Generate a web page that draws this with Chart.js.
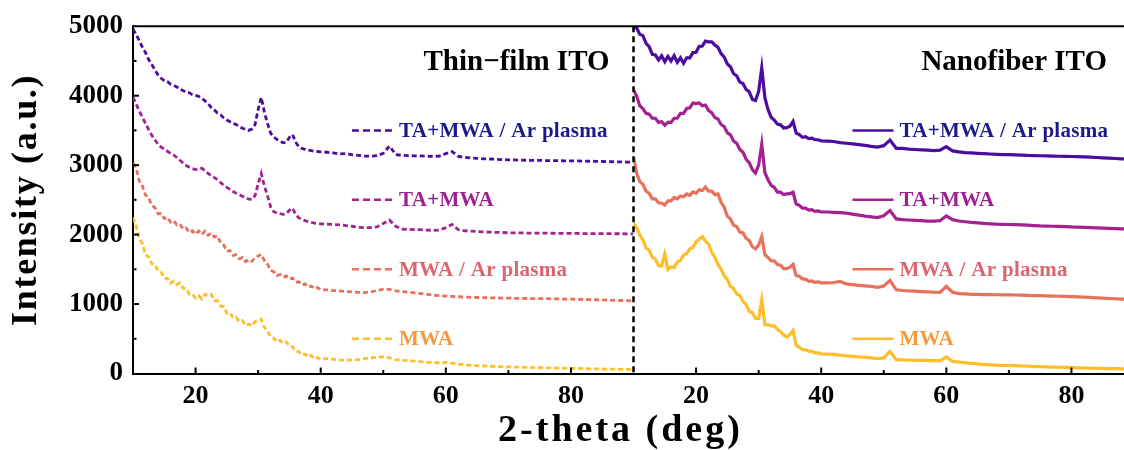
<!DOCTYPE html>
<html>
<head>
<meta charset="utf-8">
<script src="https://cdn.jsdelivr.net/npm/chart.js@4.4.1/dist/chart.umd.min.js"></script>
<style>
  html, body { margin: 0; padding: 0; background: #ffffff; }
  canvas { display: block; }
</style>
</head>
<body>
<canvas id="xrd" width="1124" height="450"></canvas>
<script>
// 2-theta sampling of each panel (deg)
const thetaThinFilm = [
  10,10.5,11,11.5,12,12.5,13,13.5,14,14.5,15,15.5,16,16.5,17,17.5,18,18.5,19,19.5,
  20,20.5,21,21.5,22,22.5,23,23.5,24,24.5,25,25.5,26,26.5,27,27.5,28,28.5,29,29.5,
  30,30.5,31,31.5,32,32.5,33,33.5,34,34.5,35,35.5,36,36.5,37,37.5,38,38.5,39,39.5,40,
  41,42,43,44,45,46,47,48,49,50,51,52,53,54,55,56,57,58,59,60,
  61,62,63,64,65,66,67,68,69,70,71,72,73,74,75,76,77,78,79,80,
  81,82,83,84,85,86,87,88,89,90
];
const thetaNanofiber = [
  10,10.5,11,11.5,12,12.5,13,13.5,14,14.5,15,15.5,16,16.5,17,17.5,18,18.5,19,19.5,
  20,20.5,21,21.5,22,22.5,23,23.5,24,24.5,25,25.5,26,26.5,27,27.5,28,28.5,29,29.5,
  30,30.5,31,31.5,32,32.5,33,33.5,34,34.5,35,35.5,36,36.5,37,37.5,38,38.5,39,39.5,40,
  41,42,43,44,45,46,47,48,49,50,51,52,53,54,55,56,57,58,59,60,
  61,62,63,64,65,66,67,68,69,70,71,72,73,74,75,76,77,78,79,80,
  81,82,83,84,85,86,87,88,89
];

// Thin-film ITO intensities (a.u., offset traces)
const thinFilmArPlasma = [
  4960,4880,4790,4700,4620,4520,4450,4370,4300,4250,
  4215,4205,4165,4150,4125,4090,4075,4045,4040,4015,
  4005,3990,3965,3925,3885,3830,3795,3750,3725,3680,
  3650,3625,3600,3585,3555,3530,3515,3500,3520,3580,
  3800,3975,3760,3600,3460,3405,3370,3345,3320,3330,
  3400,3440,3330,3265,3240,3228,3215,3208,3200,3196,3190,
  3185,3175,3160,3165,3150,3140,3130,3128,3135,3170,
  3275,3150,3140,3136,3134,3132,3128,3126,3130,3165,
  3195,3125,3112,3102,3096,3090,3088,3085,3080,3076,
  3075,3072,3070,3068,3068,3066,3064,3064,3062,3062,
  3060,3058,3056,3055,3052,3050,3048,3046,3044,3042
];
const thinFilmTaMwa = [
  3980,3880,3780,3690,3600,3510,3430,3365,3300,3260,
  3230,3200,3170,3145,3110,3070,3030,2995,2970,2950,
  2935,2945,2955,2920,2880,2850,2820,2790,2750,2710,
  2680,2650,2620,2595,2575,2550,2530,2510,2505,2560,
  2730,2880,2700,2560,2400,2330,2310,2300,2290,2300,
  2350,2380,2290,2240,2220,2200,2185,2175,2165,2160,2155,
  2150,2145,2140,2130,2120,2105,2100,2100,2110,2160,
  2210,2120,2080,2075,2070,2070,2065,2060,2065,2100,
  2145,2070,2055,2050,2045,2040,2035,2032,2030,2026,
  2025,2024,2022,2022,2020,2020,2019,2018,2017,2016,
  2016,2015,2015,2014,2013,2013,2012,2012,2011,2010
];
const thinFilmMwaAr = [
  3030,2960,2770,2700,2570,2530,2420,2390,2300,2300,
  2230,2250,2180,2200,2140,2150,2080,2095,2030,2055,
  2005,2050,2000,2050,1990,2020,1965,1980,1880,1850,
  1760,1770,1700,1710,1650,1670,1610,1640,1615,1665,
  1690,1715,1625,1575,1485,1465,1410,1425,1385,1405,
  1365,1375,1315,1320,1275,1290,1245,1260,1222,1238,1205,
  1205,1195,1190,1180,1175,1168,1165,1175,1195,1212,
  1210,1190,1180,1170,1160,1150,1140,1128,1120,1115,
  1110,1105,1100,1097,1094,1092,1090,1088,1086,1085,
  1083,1082,1080,1079,1078,1077,1075,1073,1071,1070,
  1068,1066,1064,1062,1060,1057,1054,1051,1048,1046
];
const thinFilmMwa = [
  2250,2120,1940,1870,1710,1680,1580,1570,1480,1460,
  1370,1370,1300,1330,1280,1305,1230,1220,1140,1140,
  1085,1120,1075,1140,1120,1140,1050,1050,970,960,
  870,875,800,810,745,760,690,710,685,745,
  765,780,665,615,525,510,455,475,435,455,
  395,385,320,315,265,280,240,260,212,228,200,
  215,205,195,190,195,200,215,225,235,240,
  225,200,190,185,178,170,162,158,155,160,
  148,135,125,118,112,108,105,100,97,95,
  92,90,88,86,84,82,80,78,76,74,
  72,70,68,66,65,63,62,60,58,56
];

// Nanofiber ITO intensities (a.u., offset traces)
const nanofiberArPlasma = [
  5000,4975,4885,4865,4755,4705,4595,4585,4515,4575,
  4490,4565,4500,4575,4480,4545,4465,4545,4545,4620,
  4625,4710,4715,4785,4775,4775,4730,4695,4605,4555,
  4455,4415,4315,4285,4195,4175,4090,4055,3945,3930,
  4060,4400,3970,3800,3690,3650,3590,3580,3535,3540,
  3560,3630,3460,3440,3400,3410,3382,3388,3365,3365,3350,
  3345,3340,3325,3315,3305,3295,3285,3270,3260,3280,
  3360,3240,3240,3230,3225,3220,3215,3210,3215,3265,
  3205,3190,3180,3175,3170,3165,3160,3155,3150,3150,
  3148,3145,3140,3138,3135,3132,3130,3128,3126,3124,
  3122,3120,3115,3110,3105,3100,3095,3090,3085
];
const nanofiberTaMwa = [
  4080,3995,3855,3815,3745,3735,3675,3675,3615,3625,
  3575,3615,3615,3675,3675,3745,3745,3815,3825,3895,
  3885,3895,3855,3865,3785,3755,3685,3665,3585,3555,
  3465,3435,3345,3315,3225,3185,3085,3035,2935,2885,
  3000,3300,2890,2790,2710,2680,2610,2610,2575,2585,
  2590,2610,2440,2420,2380,2380,2352,2358,2335,2340,2325,
  2325,2320,2315,2310,2295,2280,2265,2255,2245,2270,
  2345,2225,2215,2210,2205,2200,2195,2193,2200,2270,
  2215,2195,2185,2175,2168,2160,2155,2150,2148,2145,
  2143,2140,2135,2130,2125,2122,2120,2118,2115,2110,
  2107,2103,2100,2097,2094,2090,2087,2083,2080
];
const nanofiberMwaAr = [
  3120,2885,2765,2725,2625,2595,2515,2515,2455,2455,
  2425,2485,2485,2535,2515,2555,2545,2585,2565,2615,
  2595,2645,2635,2685,2625,2625,2575,2585,2465,2395,
  2265,2225,2135,2115,2035,2025,1945,1915,1825,1795,
  1850,1970,1710,1670,1620,1620,1570,1560,1510,1510,
  1530,1570,1410,1400,1362,1358,1328,1332,1312,1318,1306,
  1305,1310,1325,1290,1280,1270,1262,1255,1240,1260,
  1340,1205,1195,1190,1185,1180,1175,1170,1168,1255,
  1170,1150,1145,1140,1138,1136,1135,1134,1133,1132,
  1130,1128,1125,1122,1120,1118,1115,1112,1110,1106,
  1103,1100,1095,1090,1085,1080,1076,1072,1068
];
const nanofiberMwa = [
  2170,2095,1995,1925,1805,1775,1675,1645,1555,1545,
  1720,1495,1535,1525,1605,1625,1705,1725,1795,1815,
  1895,1935,1975,1905,1865,1745,1675,1565,1505,1405,
  1355,1255,1225,1145,1125,1035,995,895,875,795,
  795,1060,705,705,685,685,635,605,555,525,
  560,620,405,375,345,340,320,320,298,296,283,
  280,275,265,255,248,240,235,225,215,225,
  320,198,195,192,190,188,186,184,182,240,
  175,165,155,145,138,130,125,120,117,115,
  112,108,105,100,98,95,92,90,87,84,
  81,79,77,75,73,71,69,67,65
];

const seriesLabels = ['TA+MWA / Ar plasma', 'TA+MWA', 'MWA / Ar plasma', 'MWA'];
const lineColors  = ['#4b0c9f', '#a3228f', '#e8715c', '#fdbe2a'];
const labelColors = ['#1b1a8a', '#9c2092', '#dc6470', '#f59a3b'];
const legendLevels = [3500, 2500, 1500, 500];
const panelTitles = ['Thin\u2212film ITO', 'Nanofiber ITO'];
const xTitle = '2-theta (deg)';
const yTitle = 'Intensity (a.u.)';

const FONT = "'Liberation Serif', 'Times New Roman', serif";

const thinSeries = [thinFilmArPlasma, thinFilmTaMwa, thinFilmMwaAr, thinFilmMwa];
const nanoSeries = [nanofiberArPlasma, nanofiberTaMwa, nanofiberMwaAr, nanofiberMwa];

const toPoints = (xs, ys) => xs.map((x, i) => ({ x, y: ys[i] }));

const datasets = [];
thinSeries.forEach((ys, i) => datasets.push({
  label: seriesLabels[i] + ' (thin film)',
  data: toPoints(thetaThinFilm, ys),
  xAxisID: 'xL', yAxisID: 'y',
  borderColor: lineColors[i], borderWidth: 2.8, borderDash: [5, 3],
  pointRadius: 0, fill: false
}));
nanoSeries.forEach((ys, i) => datasets.push({
  label: seriesLabels[i] + ' (nanofiber)',
  data: toPoints(thetaNanofiber, ys),
  xAxisID: 'xR', yAxisID: 'y',
  borderColor: lineColors[i], borderWidth: 3.2,
  pointRadius: 0, fill: false
}));

const tickFont = { family: FONT, size: 26, weight: 'bold' };

function xScale(weight, max) {
  return {
    type: 'linear', position: 'bottom', stack: 'theta', stackWeight: weight,
    min: 10, max: max,
    grid: { display: false, drawTicks: false },
    border: { display: true, color: '#000', width: 2 },
    ticks: {
      stepSize: 10, includeBounds: false, autoSkip: false, maxRotation: 0, padding: 7,
      color: '#000', font: tickFont,
      callback: v => (v % 20 === 0 ? v : '')
    },
    afterFit: s => { s.height = 76.5; s.paddingLeft = 0; s.paddingRight = 0; }
  };
}

// Frame, inward ticks, panel divider, in-plot legends and titles
const decor = {
  id: 'decor',
  afterDatasetsDraw(chart) {
    const { ctx, chartArea: a, scales } = chart;
    const y = scales.y, xL = scales.xL, xR = scales.xR;
    const seg = (x1, y1, x2, y2) => { ctx.beginPath(); ctx.moveTo(x1, y1); ctx.lineTo(x2, y2); ctx.stroke(); };
    ctx.save();
    ctx.strokeStyle = '#000';
    ctx.lineWidth = 2;
    seg(a.left - 1, a.top, a.right, a.top);

    y.ticks.forEach(t => {
      if (t.value <= y.min || t.value >= y.max) return;
      const p = y.getPixelForValue(t.value);
      seg(a.left, p, a.left + (t.value % 1000 === 0 ? 6 : 3.5), p);
    });
    [xL, xR].forEach(s => s.ticks.forEach(t => {
      if (t.value % 10 !== 0 || t.value <= s.min || t.value >= s.max) return;
      const p = s.getPixelForValue(t.value);
      seg(p, a.bottom, p, a.bottom - (t.value % 20 === 0 ? 6 : 3.5));
    }));

    ctx.lineWidth = 2.5;
    ctx.setLineDash([6, 4]);
    seg(xL.right, a.top, xL.right, a.bottom);
    ctx.setLineDash([]);

    // legends beside the traces
    [xL, xR].forEach((s, panel) => {
      const x0 = s.getPixelForValue(45);
      seriesLabels.forEach((lab, i) => {
        const py = y.getPixelForValue(legendLevels[i]);
        ctx.strokeStyle = lineColors[i];
        ctx.lineWidth = 2.5;
        ctx.setLineDash(panel === 0 ? [7, 4] : []);
        seg(x0, py, x0 + 41, py);
        ctx.setLineDash([]);
        ctx.fillStyle = labelColors[i];
        ctx.font = 'bold 21px ' + FONT;
        ctx.letterSpacing = '0.3px';
        ctx.textAlign = 'left';
        ctx.textBaseline = 'middle';
        ctx.fillText(lab, x0 + 47, py + 1);
      });
    });
    ctx.letterSpacing = '0px';

    // panel titles
    ctx.fillStyle = '#000';
    ctx.font = 'bold 29px ' + FONT;
    ctx.textBaseline = 'alphabetic';
    ctx.textAlign = 'right';
    ctx.fillText(panelTitles[0], xL.right - 24, a.top + 44);
    ctx.fillText(panelTitles[1], a.right - 17, a.top + 44);

    // axis titles
    ctx.textAlign = 'center';
    ctx.font = 'bold 38px ' + FONT;
    ctx.letterSpacing = '3px';
    ctx.fillText(xTitle, xL.right - 13, a.bottom + 67.5);
    ctx.font = 'bold 36px ' + FONT;
    ctx.letterSpacing = '1.7px';
    ctx.translate(36, (a.top + a.bottom) / 2);
    ctx.rotate(-Math.PI / 2);
    ctx.fillText(yTitle, 0, 0);
    ctx.restore();
  }
};

new Chart(document.getElementById('xrd'), {
  type: 'line',
  data: { datasets },
  options: {
    responsive: false,
    animation: false,
    devicePixelRatio: 1,
    layout: { padding: { top: 24, right: 0, bottom: 0, left: 0 } },
    plugins: { legend: { display: false }, tooltip: { enabled: false } },
    elements: { line: { tension: 0 }, point: { radius: 0 } },
    scales: {
      xL: xScale(80, 90),
      xR: xScale(78.4, 88.4),
      y: {
        type: 'linear', position: 'left', min: 0, max: 5000,
        grid: { display: false, drawTicks: false },
        border: { display: true, color: '#000', width: 2 },
        ticks: {
          stepSize: 500, autoSkip: false, padding: 10,
          color: '#000', font: { family: FONT, size: 27, weight: 'bold' },
          callback: v => (v % 1000 === 0 ? v : '')
        },
        afterFit: s => { s.width = 133; }
      }
    }
  },
  plugins: [decor]
});
</script>
</body>
</html>
